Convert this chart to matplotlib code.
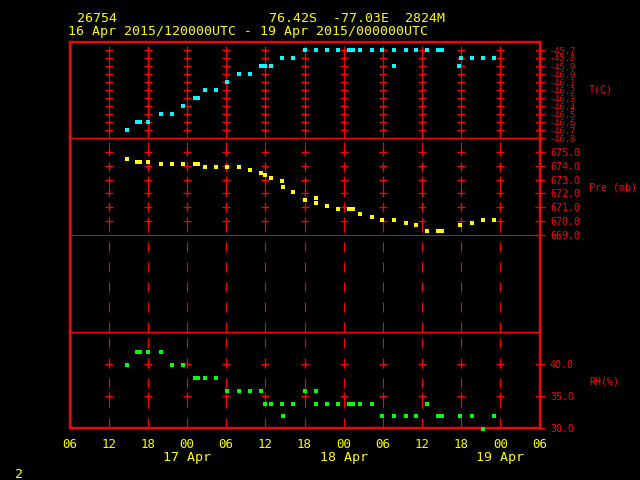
import matplotlib
matplotlib.use('Agg')
import matplotlib.pyplot as plt
from matplotlib.transforms import blended_transform_factory

plt.rcParams['font.family'] = ['DejaVu Sans Mono']

# hours since 16 Apr 2015 00 UTC
t_temp = [14.8, 16.4, 16.8, 18.1, 20.0, 21.7, 23.4, 25.2, 25.7, 26.8,
          28.4, 30.2, 31.9, 33.6, 35.3, 35.9, 36.9, 38.6, 40.3, 42.0,
          43.7, 45.5, 47.2, 48.8, 49.5, 50.5, 52.3, 53.9, 55.7, 55.7,
          57.5, 59.1, 60.8, 62.5, 63.0, 65.7, 65.9, 67.6, 69.4, 71.0]
temp = [-46.7, -46.6, -46.6, -46.6, -46.5, -46.5, -46.4, -46.3, -46.3, -46.2,
        -46.2, -46.1, -46.0, -46.0, -45.9, -45.9, -45.9, -45.8, -45.8, -45.7,
        -45.7, -45.7, -45.7, -45.7, -45.7, -45.7, -45.7, -45.7, -45.7, -45.9,
        -45.7, -45.7, -45.7, -45.7, -45.7, -45.9, -45.8, -45.8, -45.8, -45.8]

t_pres = [14.8, 16.4, 16.8, 18.1, 20.0, 21.7, 23.4, 25.2, 25.7, 26.8,
          28.4, 30.2, 31.9, 33.6, 35.3, 35.9, 36.9, 38.6, 38.7, 40.3,
          42.0, 43.7, 43.8, 45.5, 47.2, 48.8, 49.5, 50.5, 52.3, 53.9,
          55.7, 57.5, 59.1, 60.8, 62.5, 63.0, 65.8, 67.6, 69.4, 71.0]
pres = [674.5, 674.3, 674.3, 674.3, 674.1, 674.1, 674.1, 674.1, 674.1, 673.9,
        673.9, 673.9, 673.9, 673.7, 673.5, 673.3, 673.1, 672.9, 672.5, 672.1,
        671.5, 671.7, 671.3, 671.1, 670.9, 670.9, 670.9, 670.5, 670.3, 670.1,
        670.1, 669.9, 669.7, 669.3, 669.3, 669.3, 669.7, 669.9, 670.1, 670.1]

t_rh = t_pres
rh = [39.9, 41.9, 41.9, 41.9, 41.9, 39.9, 39.9, 37.8, 37.8, 37.8,
      37.8, 35.8, 35.8, 35.8, 35.8, 33.8, 33.8, 33.8, 31.8, 33.8,
      35.8, 35.8, 33.8, 33.8, 33.8, 33.8, 33.8, 33.8, 33.8, 31.8,
      31.8, 31.8, 31.8, 33.8, 31.8, 31.8, 31.8, 31.8, 29.9, 31.8]

temp_ticks = [-46.8, -46.7, -46.6, -46.5, -46.4, -46.3, -46.2, -46.1, -46.0, -45.9, -45.8, -45.7]
pres_ticks = [669.0, 670.0, 671.0, 672.0, 673.0, 674.0, 675.0]
rh_ticks = [30.0, 35.0, 40.0]
x_ticks = [6, 12, 18, 24, 30, 36, 42, 48, 54, 60, 66, 72, 78]
x_labels = ['06', '12', '18', '00', '06', '12', '18', '00', '06', '12', '18', '00', '06']
day_pos = [24, 48, 72]
day_labels = ['17 Apr', '18 Apr', '19 Apr']
grid_x = x_ticks[1:-1]

RED = '#ff0000'
YEL = '#ffff00'

fig = plt.figure(figsize=(6.4, 4.8), dpi=100, facecolor='black')


def fy(py):
    return 1 - py / 480


L, W = 69.5 / 640, 470 / 640
ax_t = fig.add_axes([L, fy(138), W, 96 / 480])
ax_p = fig.add_axes([L, fy(332), W, 194 / 480])
ax_r = fig.add_axes([L, fy(428), W, 96 / 480])

panels = [
    (ax_t, (-46.8, -45.6), temp_ticks, temp_ticks[1:], t_temp, temp, '#00ffff', 'T(C)', 90, 6.3),
    (ax_p, (662, 676), pres_ticks, pres_ticks[1:], t_pres, pres, YEL, 'Pre (mb)', 187, 7.2),
    (ax_r, (30, 45), rh_ticks, rh_ticks[1:], t_rh, rh, '#00ff00', 'RH(%)', 381, 7.2),
]

for ax, ylim, ticks, cross_lv, tx, vals, col, lab, ly, fs in panels:
    ax.set_facecolor('black')
    ax.set_xlim(6, 78)
    ax.set_ylim(*ylim)
    ax.vlines(grid_x, ylim[0], ylim[1], colors=RED, lw=0.8,
              linestyles=(0, (9, 9)), zorder=1)
    for lv in cross_lv:
        ax.plot(grid_x, [lv] * len(grid_x), ls='none', marker='+',
                ms=6, mew=0.9, color=RED, zorder=1)
    ax.plot(tx, vals, ls='none', marker='s', ms=3.3, mew=0, color=col,
            zorder=5, clip_on=False)
    ax.yaxis.tick_right()
    ax.set_yticks(ticks)
    ax.set_yticklabels(['%.1f' % v for v in ticks])
    ax.tick_params(axis='y', colors=RED, direction='inout', length=7,
                   width=1, pad=4, labelsize=fs)
    ax.tick_params(axis='x', length=0)
    ax.set_xticks(x_ticks)
    for s in ax.spines.values():
        s.set_color(RED)
        s.set_linewidth(1.7)
    fig.text(589 / 640, fy(ly), lab, color=RED, fontsize=7.2,
             ha='left', va='center')

ax_t.spines['bottom'].set_linewidth(0.9)
ax_p.spines['top'].set_linewidth(0.9)
ax_p.spines['bottom'].set_linewidth(0.9)
ax_r.spines['top'].set_linewidth(0.9)
ax_p.axhline(669.0, color=RED, lw=0.7, zorder=1)

ax_t.set_xticklabels([])
ax_p.set_xticklabels([])
ax_r.set_xticklabels(x_labels)
ax_r.tick_params(axis='x', colors=YEL, labelsize=9, pad=7)

trans = blended_transform_factory(ax_r.transData, fig.transFigure)
for d, s in zip(day_pos, day_labels):
    ax_r.text(d, fy(457), s, transform=trans, color=YEL, fontsize=9.5,
              ha='center', va='center')

fig.text(77 / 640, fy(18), '26754', color=YEL, fontsize=9.5, va='center')
fig.text(269 / 640, fy(18), '76.42S  -77.03E  2824M', color=YEL,
         fontsize=9.5, va='center')
fig.text(68 / 640, fy(32), '16 Apr 2015/120000UTC - 19 Apr 2015/000000UTC',
         color=YEL, fontsize=9.5, va='center')
fig.text(15 / 640, fy(474), '2', color=YEL, fontsize=9.5, va='center')

fig.savefig('out.png', dpi=100, facecolor='black')
